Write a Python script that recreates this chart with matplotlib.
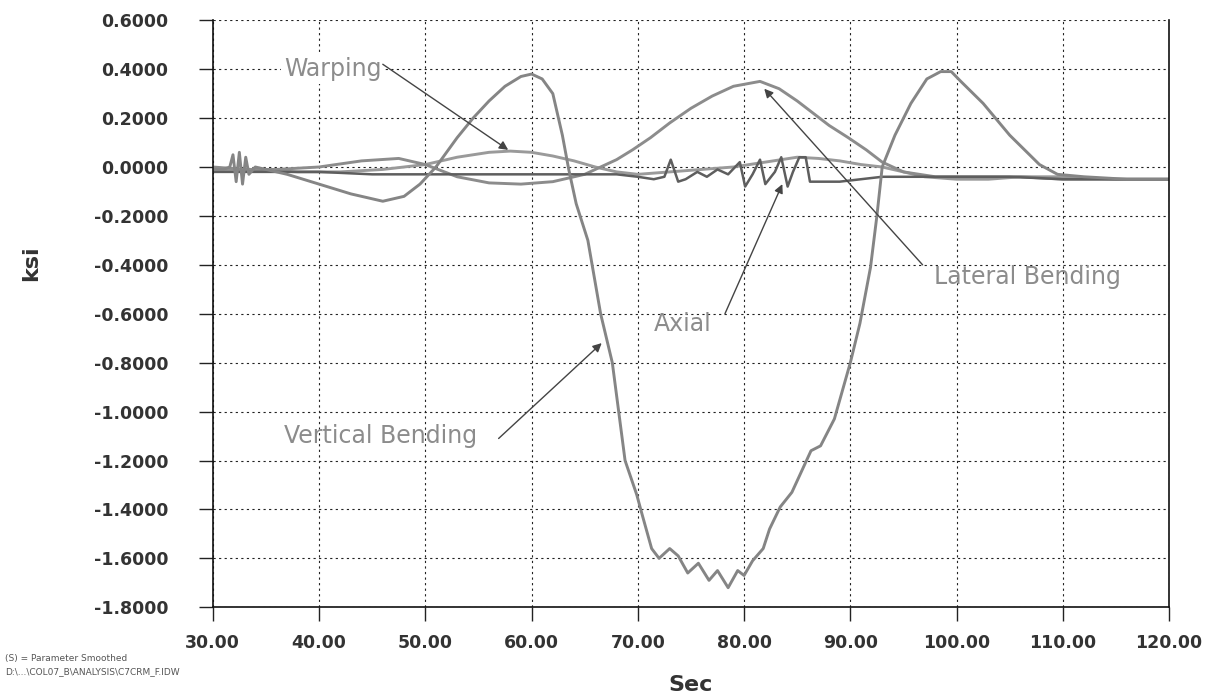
import numpy as np
import matplotlib
matplotlib.use("Agg")
import matplotlib.pyplot as plt

# vertical bending (sec, ksi)
vb_t = [30, 31, 31.6, 31.9, 32.2, 32.5, 32.8, 33.1, 33.4, 34,
        35, 37, 40, 43, 46, 48, 49.5, 51, 53, 54.5,
        56, 57.5, 59, 60, 61, 62, 62.9, 63.5, 64.2, 65.3,
        65.7, 66.5, 67.6, 68.2, 68.8, 69.9, 70.4, 71.3, 72.0, 73.0,
        73.8, 74.7, 75.7, 76.7, 77.5, 78.5, 79.4, 80.0, 80.8, 81.8,
        82.4, 83.4, 84.5, 86.3, 87.2, 88.5, 90.0, 90.9, 91.9, 92.5,
        93.0, 94.2, 95.7, 97.2, 98.5, 99.5, 100.4, 102.5, 105.0, 107.8,
        109.5, 112, 116, 120]
vb = [-0.01, -0.01, 0.0, 0.05, -0.06, 0.06, -0.07, 0.04, -0.03, 0.0,
      -0.01, -0.03, -0.07, -0.11, -0.14, -0.12, -0.07, 0.0, 0.12, 0.2,
      0.27, 0.33, 0.37, 0.38, 0.36, 0.3, 0.13, -0.01, -0.15, -0.3,
      -0.4, -0.6, -0.8, -1.0, -1.2, -1.34, -1.42, -1.56, -1.60, -1.56,
      -1.59, -1.66, -1.62, -1.69, -1.65, -1.72, -1.65, -1.67, -1.61, -1.56,
      -1.48, -1.39, -1.33, -1.16, -1.14, -1.03, -0.80, -0.64, -0.41, -0.2,
      0.0, 0.13, 0.26, 0.36, 0.39, 0.39, 0.35, 0.26, 0.13, 0.01,
      -0.03, -0.04, -0.05, -0.05]

# lateral bending
lb_t = [30, 33, 36, 40, 44, 47.5, 50, 53, 56, 59,
        62, 65, 66.5, 68, 69.5, 71.2, 73, 75, 77, 79,
        81.5, 83.3, 85, 86.5, 88, 89.8, 91.5, 93, 95, 98,
        102, 106, 110, 115, 120]
lb = [0.0, -0.01, -0.01, 0.0, 0.025, 0.035, 0.01, -0.04, -0.065, -0.07,
      -0.06, -0.03, 0.0, 0.03, 0.07, 0.12, 0.18, 0.24, 0.29, 0.33,
      0.35, 0.32, 0.27, 0.22, 0.17, 0.12, 0.07, 0.02, -0.02, -0.04,
      -0.04, -0.04, -0.05, -0.05, -0.05]

# warping
wp_t = [30, 34, 38, 42, 46, 50, 53, 56, 58, 60,
        62, 64, 66, 68, 70, 73, 76, 79, 82, 85,
        87, 89, 91, 93, 95, 97, 100, 103, 106, 110,
        115, 120]
wp = [-0.01, -0.01, -0.02, -0.02, -0.01, 0.01, 0.04, 0.06, 0.065, 0.06,
      0.045, 0.025, 0.0, -0.02, -0.03, -0.02, -0.01, 0.0, 0.02, 0.04,
      0.035, 0.025, 0.01, 0.0, -0.02, -0.04, -0.05, -0.05, -0.04, -0.04,
      -0.05, -0.05]

# axial
ax_t = [30, 35, 40, 45, 50, 55, 60, 65, 68, 70,
        71.5, 72.5, 73.1, 73.8, 74.5, 75.6, 76.5, 77.5, 78.5, 79.6,
        80.1, 80.8, 81.5, 82.0, 82.9, 83.5, 84.1, 84.6, 85.2, 85.8,
        86.2, 87, 89, 91, 93, 96, 100, 105, 110, 115,
        120]
axl = [-0.02, -0.02, -0.02, -0.03, -0.03, -0.03, -0.03, -0.03, -0.03, -0.04,
       -0.05, -0.04, 0.03, -0.06, -0.05, -0.02, -0.04, -0.01, -0.03, 0.02,
       -0.08, -0.03, 0.03, -0.07, -0.02, 0.04, -0.08, -0.02, 0.04, 0.04,
       -0.06, -0.06, -0.06, -0.05, -0.04, -0.04, -0.04, -0.04, -0.05, -0.05,
       -0.05]

xticks = [30, 40, 50, 60, 70, 80, 90, 100, 110, 120]
yticks = [-1.8, -1.6, -1.4, -1.2, -1.0, -0.8, -0.6, -0.4, -0.2, 0.0, 0.2, 0.4, 0.6]

fig = plt.figure(figsize=(12.09, 6.98), dpi=100)
ax = fig.add_axes([0.176, 0.130, 0.791, 0.841])

ax.plot(wp_t, wp, color="#9a9a9a", lw=2.1)
ax.plot(lb_t, lb, color="#8c8c8c", lw=2.1)
ax.plot(ax_t, axl, color="#5e5e5e", lw=1.8)
ax.plot(vb_t, vb, color="#858585", lw=2.1)

ax.set_xlim(30, 120)
ax.set_ylim(-1.8, 0.6)
ax.set_xticks(xticks)
ax.set_yticks(yticks)
ax.set_xticklabels([f"{v:.2f}" for v in xticks])
ax.set_yticklabels([f"{v:.4f}" for v in yticks])
for lab in ax.get_xticklabels() + ax.get_yticklabels():
    lab.set_fontweight("bold")
    lab.set_fontsize(12.5)
    lab.set_color("#333333")
ax.tick_params(axis="both", direction="out", length=10, width=1, color="#222222")
ax.tick_params(axis="y", pad=22)
ax.tick_params(axis="x", pad=9)

ax.grid(True, color="#222222", linestyle=(0, (2, 3)), linewidth=0.8)
ax.spines["top"].set_visible(False)
for s in ["left", "right", "bottom"]:
    ax.spines[s].set_linewidth(1.2)
    ax.spines[s].set_color("#111111")

ax.set_xlabel("Sec", fontsize=16, fontweight="bold", color="#333333")
ax.xaxis.set_label_coords(0.5, -0.115)
ax.set_ylabel("ksi", fontsize=16, fontweight="bold", color="#333333")
ax.yaxis.set_label_coords(-0.18, 0.586)

# labels and arrows
txt = dict(fontsize=17, color="#8c8c8c", va="center", ha="left")
ax.text(36.7, 0.40, "Warping", bbox=dict(facecolor="white", edgecolor="none", pad=2), **txt)
ax.text(97.9, -0.45, "Lateral Bending", **txt)
ax.text(71.5, -0.64, "Axial", **txt)
ax.text(36.7, -1.10, "Vertical Bending", **txt)

arr = dict(arrowstyle="-|>", color="#444444", lw=1.0, mutation_scale=13, shrinkA=0, shrinkB=0)
ax.annotate("", xy=(57.8, 0.07), xytext=(46.0, 0.42), arrowprops=arr)
ax.annotate("", xy=(81.9, 0.32), xytext=(96.8, -0.40), arrowprops=arr)
ax.annotate("", xy=(83.6, -0.07), xytext=(78.2, -0.60), arrowprops=arr)
ax.annotate("", xy=(66.6, -0.72), xytext=(56.9, -1.11), arrowprops=arr)

fig.text(0.004, 1 - 658 / 698, "(S) = Parameter Smoothed", fontsize=6.5, color="#555555", va="center")
fig.text(0.004, 1 - 672 / 698, r"D:\...\COL07_B\ANALYSIS\C7CRM_F.IDW", fontsize=6.5, color="#555555", va="center")

fig.savefig("out.png", dpi=100)
